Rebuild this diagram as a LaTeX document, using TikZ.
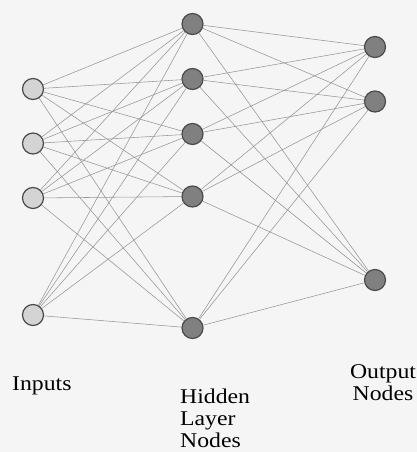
\documentclass[tikz,border=0pt]{standalone}
\usepackage{fontspec}
\setmainfont{Liberation Serif}
\newfontfamily\lblfont[FakeStretch=1.13]{Liberation Serif}
\definecolor{paper}{RGB}{245,245,245}
\definecolor{wire}{RGB}{150,150,150}
\definecolor{rim}{RGB}{75,75,75}
\definecolor{inFill}{RGB}{212,212,212}
\definecolor{hidFill}{RGB}{128,128,128}
\begin{document}
\begin{tikzpicture}[x=1pt,y=-1pt,
  unit/.style={circle,draw=rim,line width=1.2pt,minimum size=21pt,inner sep=0pt},
  inunit/.style={unit,fill=inFill},
  hidunit/.style={unit,fill=hidFill},
  outunit/.style={unit,fill=hidFill},
  link/.style={draw=wire,line width=0.55pt},
  caption/.style={font=\fontsize{21}{22}\lblfont,inner sep=0pt,align=left}
]
\fill[paper] (0,0) rectangle (417,452);
\useasboundingbox (0,0) rectangle (417,452);

% input layer
\node[inunit] (i1) at (33,89) {};
\node[inunit] (i2) at (33,143.5) {};
\node[inunit] (i3) at (33,198) {};
\node[inunit] (i4) at (33,315) {};

% hidden layer
\node[hidunit] (h1) at (192.5,24) {};
\node[hidunit] (h2) at (192.5,79) {};
\node[hidunit] (h3) at (192.5,134) {};
\node[hidunit] (h4) at (192.5,196.5) {};
\node[hidunit] (h5) at (192.5,328) {};

% output layer
\node[outunit] (o1) at (375,47) {};
\node[outunit] (o2) at (375,101.5) {};
\node[outunit] (o3) at (375,280) {};

% full connections
\foreach \a in {1,...,4}
  \foreach \b in {1,...,5}
    \draw[link] (i\a) -- (h\b);
\foreach \a in {1,...,5}
  \foreach \b in {1,...,3}
    \draw[link] (h\a) -- (o\b);

% captions
\node[caption,anchor=base west] (tin) at (12,390) {Inputs};
\node[caption,anchor=north west] (thid) at (180,389) {Hidden\\Layer\\Nodes};
\node[caption,anchor=north,align=center] (tout) at (383,364) {Output\\Nodes};
\end{tikzpicture}
\end{document}
